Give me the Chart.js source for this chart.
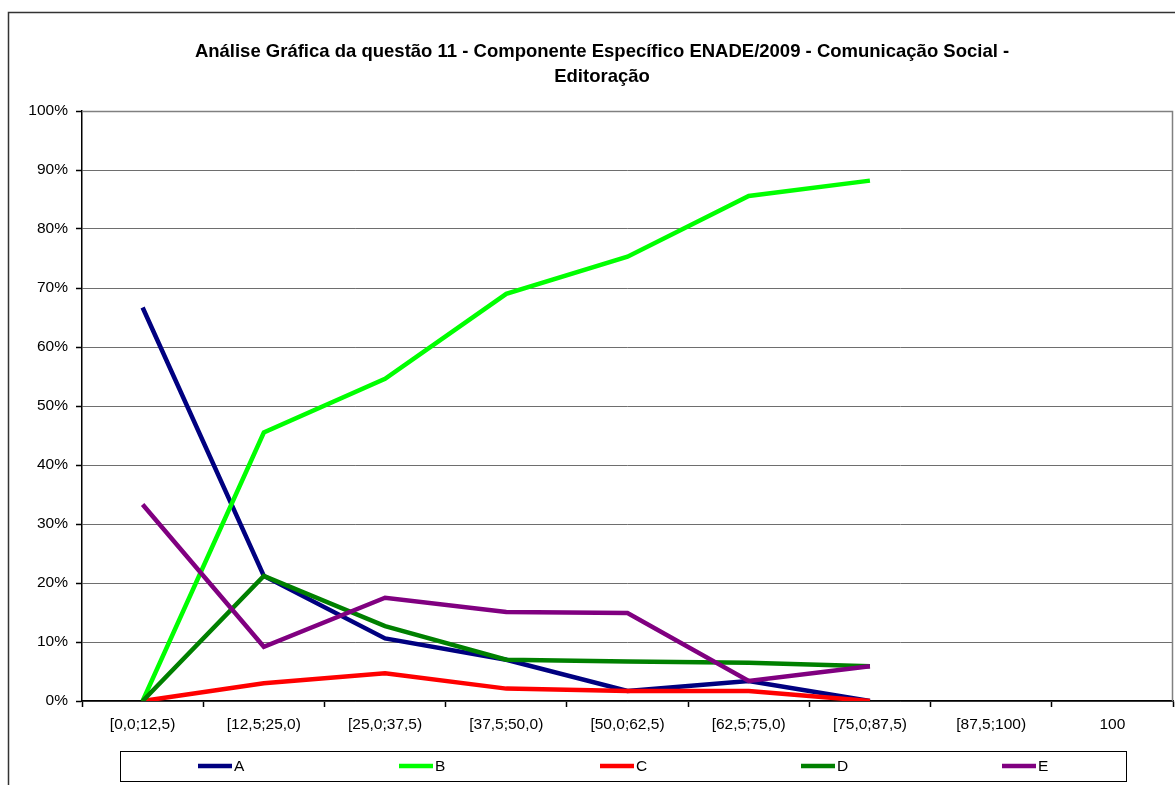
<!DOCTYPE html>
<html>
<head>
<meta charset="utf-8">
<script src="https://cdn.jsdelivr.net/npm/chart.js@4/dist/chart.umd.min.js"></script>
<style>
  body { margin: 0; background: #fff; }
  #wrap { width: 1175px; height: 785px; position: relative; }
</style>
</head>
<body>
<div id="wrap"><canvas id="questao-canvas" width="1175" height="785"></canvas></div>
<script>
const faixas = ['[0,0;12,5)', '[12,5;25,0)', '[25,0;37,5)', '[37,5;50,0)', '[50,0;62,5)', '[62,5;75,0)', '[75,0;87,5)', '[87,5;100)', '100'];

const serieA = [66.7, 21.2, 10.6, 7.0, 1.7, 3.4, 0, null, null];
const serieB = [0, 45.5, 54.6, 69.0, 75.3, 85.6, 88.2, null, null];
const serieC = [0, 3.0, 4.7, 2.1, 1.7, 1.7, 0, null, null];
const serieD = [0, 21.2, 12.7, 7.0, 6.7, 6.5, 5.9, null, null];
const serieE = [33.3, 9.2, 17.5, 15.1, 14.9, 3.4, 5.9, null, null];

const tituloLinhas = [
  'Análise Gráfica da questão 11 - Componente Específico ENADE/2009 - Comunicação Social -',
  'Editoração'
];

const fonte = '"Liberation Sans", Arial, sans-serif';

function serie(label, data, color, order) {
  return {
    label: label,
    data: data,
    borderColor: color,
    backgroundColor: color,
    borderWidth: 4.5,
    pointRadius: 0,
    tension: 0,
    fill: false,
    spanGaps: false,
    order: order
  };
}

// moldura, titulo e legenda no estilo do Excel
const moldura = {
  id: 'moldura',
  beforeDraw(chart) {
    const c = chart.ctx;
    c.save();
    c.fillStyle = '#fff';
    c.fillRect(0, 0, chart.width, chart.height);
    c.strokeStyle = '#333';
    c.lineWidth = 1.5;
    c.strokeRect(8.5, 12.5, 1300, 900);
    c.restore();
  },
  afterDraw(chart) {
    const c = chart.ctx;
    const a = chart.chartArea;
    c.save();
    // borda do plot
    c.strokeStyle = '#808080';
    c.lineWidth = 1.5;
    c.beginPath();
    c.moveTo(a.left, a.top + 0.5);
    c.lineTo(a.right - 0.5, a.top + 0.5);
    c.lineTo(a.right - 0.5, a.bottom);
    c.stroke();

    // titulo
    c.fillStyle = '#000';
    c.font = 'bold 18.5px ' + fonte;
    c.textAlign = 'center';
    c.textBaseline = 'middle';
    c.fillText(tituloLinhas[0], 602, 52);
    c.fillText(tituloLinhas[1], 602, 77);

    // legenda
    c.strokeStyle = '#000';
    c.lineWidth = 1;
    c.strokeRect(120.5, 751.5, 1006, 30);
    c.font = '15.5px ' + fonte;
    c.textAlign = 'left';
    chart.data.datasets.forEach((ds, i) => {
      const x = 198 + i * 201;
      c.strokeStyle = ds.borderColor;
      c.lineWidth = 4.5;
      c.beginPath();
      c.moveTo(x, 766);
      c.lineTo(x + 34, 766);
      c.stroke();
      c.fillStyle = '#000';
      c.fillText(ds.label, x + 36, 767);
    });
    c.restore();
  }
};

const ctx = document.getElementById('questao-canvas').getContext('2d');

new Chart(ctx, {
  type: 'line',
  data: {
    labels: faixas,
    datasets: [
      serie('A', serieA, '#000080', 4),
      serie('B', serieB, '#00ff00', 3),
      serie('C', serieC, '#ff0000', 2),
      serie('D', serieD, '#008000', 1),
      serie('E', serieE, '#800080', 0)
    ]
  },
  options: {
    responsive: false,
    animation: false,
    layout: { padding: { top: 111, left: 0, right: 2, bottom: 0 } },
    plugins: {
      legend: { display: false },
      title: { display: false },
      tooltip: { enabled: false }
    },
    scales: {
      x: {
        offset: true,
        afterFit(scale) { scale.height = 84; },
        grid: {
          offset: true,
          drawOnChartArea: false,
          drawTicks: true,
          tickLength: 6,
          tickColor: '#000',
          tickWidth: 1.5
        },
        border: { display: true, color: '#000', width: 1.5 },
        ticks: {
          color: '#000',
          padding: 8,
          maxRotation: 0,
          autoSkip: false,
          font: { family: fonte, size: 15.5 }
        }
      },
      y: {
        min: 0,
        max: 100,
        afterFit(scale) { scale.width = 82; },
        grid: {
          color: '#6e6e6e',
          lineWidth: 1,
          borderDash: [1, 1],
          tickBorderDash: [],
          tickLength: 6,
          tickColor: '#000',
          tickWidth: 1.5
        },
        border: { display: true, color: '#000', width: 1.5 },
        ticks: {
          stepSize: 10,
          color: '#000',
          padding: 8,
          font: { family: fonte, size: 15.5 },
          callback: v => v + '%'
        }
      }
    }
  },
  plugins: [moldura]
});
</script>
</body>
</html>
